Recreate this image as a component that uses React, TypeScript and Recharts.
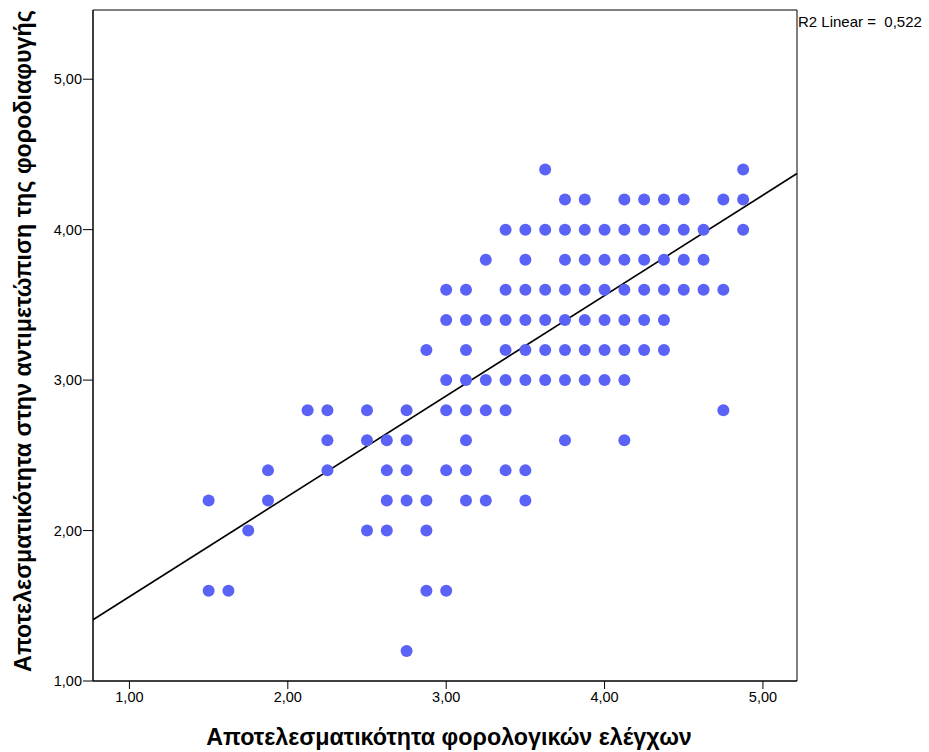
import React from 'react';
import {
  ScatterChart,
  Scatter,
  XAxis,
  YAxis,
  ReferenceArea,
  ReferenceLine,
  Label,
} from 'recharts';

// x = Αποτελεσματικότητα φορολογικών ελέγχων, y = Αποτελεσματικότητα στην αντιμετώπιση της φοροδιαφυγής
const xValues = [
  1.5, 1.5,
  1.625,
  1.75,
  1.875, 1.875,
  2.125,
  2.25, 2.25, 2.25,
  2.5, 2.5, 2.5,
  2.625, 2.625, 2.625, 2.625,
  2.75, 2.75, 2.75, 2.75, 2.75,
  2.875, 2.875, 2.875, 2.875,
  3.0, 3.0, 3.0, 3.0, 3.0, 3.0,
  3.125, 3.125, 3.125, 3.125, 3.125, 3.125, 3.125, 3.125,
  3.25, 3.25, 3.25, 3.25, 3.25,
  3.375, 3.375, 3.375, 3.375, 3.375, 3.375, 3.375,
  3.5, 3.5, 3.5, 3.5, 3.5, 3.5, 3.5, 3.5,
  3.625, 3.625, 3.625, 3.625, 3.625, 3.625,
  3.75, 3.75, 3.75, 3.75, 3.75, 3.75, 3.75, 3.75,
  3.875, 3.875, 3.875, 3.875, 3.875, 3.875, 3.875,
  4.0, 4.0, 4.0, 4.0, 4.0, 4.0,
  4.125, 4.125, 4.125, 4.125, 4.125, 4.125, 4.125, 4.125,
  4.25, 4.25, 4.25, 4.25, 4.25, 4.25,
  4.375, 4.375, 4.375, 4.375, 4.375, 4.375,
  4.5, 4.5, 4.5, 4.5,
  4.625, 4.625, 4.625,
  4.75, 4.75, 4.75,
  4.875, 4.875, 4.875,
];

const yValues = [
  2.2, 1.6,
  1.6,
  2.0,
  2.4, 2.2,
  2.8,
  2.8, 2.6, 2.4,
  2.8, 2.6, 2.0,
  2.6, 2.4, 2.2, 2.0,
  2.8, 2.6, 2.4, 2.2, 1.2,
  3.2, 2.2, 2.0, 1.6,
  3.6, 3.4, 3.0, 2.8, 2.4, 1.6,
  3.6, 3.4, 3.2, 3.0, 2.8, 2.6, 2.4, 2.2,
  3.8, 3.4, 3.0, 2.8, 2.2,
  4.0, 3.6, 3.4, 3.2, 3.0, 2.8, 2.4,
  4.0, 3.8, 3.6, 3.4, 3.2, 3.0, 2.4, 2.2,
  4.4, 4.0, 3.6, 3.4, 3.2, 3.0,
  4.2, 4.0, 3.8, 3.6, 3.4, 3.2, 3.0, 2.6,
  4.2, 4.0, 3.8, 3.6, 3.4, 3.2, 3.0,
  4.0, 3.8, 3.6, 3.4, 3.2, 3.0,
  4.2, 4.0, 3.8, 3.6, 3.4, 3.2, 3.0, 2.6,
  4.2, 4.0, 3.8, 3.6, 3.4, 3.2,
  4.2, 4.0, 3.8, 3.6, 3.4, 3.2,
  4.2, 4.0, 3.8, 3.6,
  4.0, 3.8, 3.6,
  4.2, 3.6, 2.8,
  4.4, 4.2, 4.0,
];

const xTicks = [1, 2, 3, 4, 5];
const yTicks = [1, 2, 3, 4, 5];
const xDomain = [0.77, 5.215];
const yDomain = [1, 5.46];

// fit line endpoints
const fitX = [0.77, 5.215];
const fitY = [1.407, 4.373];

const r2Text = 'R2 Linear =\u00a0\u00a00,522';
const xTitle = 'Αποτελεσματικότητα φορολογικών ελέγχων';
const yTitle = 'Αποτελεσματικότητα στην αντιμετώπιση της φοροδιαφυγής';

const points = xValues.map((x, i) => ({ x, y: yValues[i] }));

const fmt = (v: number) => v.toFixed(2).replace('.', ',');
const FONT = '"Liberation Sans", Arial, sans-serif';
const DOT = '#5b63f6';

const Dot = (props: any) => {
  const { cx, cy } = props;
  if (cx == null || cy == null) return null;
  return <circle cx={cx} cy={cy} r={6} fill={DOT} />;
};

export default function App() {
  return (
    <div style={{ position: 'absolute', left: 0, top: 0, width: 929, height: 752, background: '#fff' }}>
      <ScatterChart
        width={929}
        height={752}
        margin={{ top: 10, right: 132, bottom: 0, left: 0 }}
      >
        <XAxis
          type="number"
          dataKey="x"
          domain={xDomain}
          allowDataOverflow
          ticks={xTicks}
          tickFormatter={fmt}
          height={71}
          tickSize={8}
          tickMargin={3}
          axisLine={{ stroke: '#000' }}
          tickLine={{ stroke: '#000' }}
          tick={{ fill: '#000', fontSize: 14.5, fontFamily: FONT }}
        >
          <Label
            content={() => (
              <text
                x={449}
                y={745}
                textAnchor="middle"
                fontSize={23.3}
                fontWeight="bold"
                fontFamily={FONT}
                fill="#000"
              >
                {xTitle}
              </text>
            )}
          />
        </XAxis>
        <YAxis
          type="number"
          dataKey="y"
          domain={yDomain}
          allowDataOverflow
          ticks={yTicks}
          tickFormatter={fmt}
          width={93}
          tickSize={10}
          tickMargin={1}
          axisLine={{ stroke: '#000' }}
          tickLine={{ stroke: '#000' }}
          tick={{ fill: '#000', fontSize: 14.5, fontFamily: FONT }}
        >
          <Label
            content={() => (
              <text
                x={0}
                y={0}
                transform="translate(31, 341) rotate(-90)"
                textAnchor="middle"
                fontSize={23.3}
                fontWeight="bold"
                fontFamily={FONT}
                fill="#000"
              >
                {yTitle}
              </text>
            )}
          />
        </YAxis>
        <ReferenceArea
          x1={xDomain[0]}
          x2={xDomain[1]}
          y1={yDomain[0]}
          y2={yDomain[1]}
          fill="none"
          stroke="#000"
          strokeWidth={1}
          fillOpacity={0}
          ifOverflow="visible"
          label={{
            content: () => (
              <text x={798} y={27} fontSize={15} fontFamily={FONT} fill="#000">
                {r2Text}
              </text>
            ),
          } as any}
        />
        <Scatter data={points} shape={Dot} isAnimationActive={false} />
        <ReferenceLine
          segment={[
            { x: fitX[0], y: fitY[0] },
            { x: fitX[1], y: fitY[1] },
          ]}
          stroke="#000"
          strokeWidth={1.6}
          ifOverflow="visible"
        />
      </ScatterChart>
    </div>
  );
}
